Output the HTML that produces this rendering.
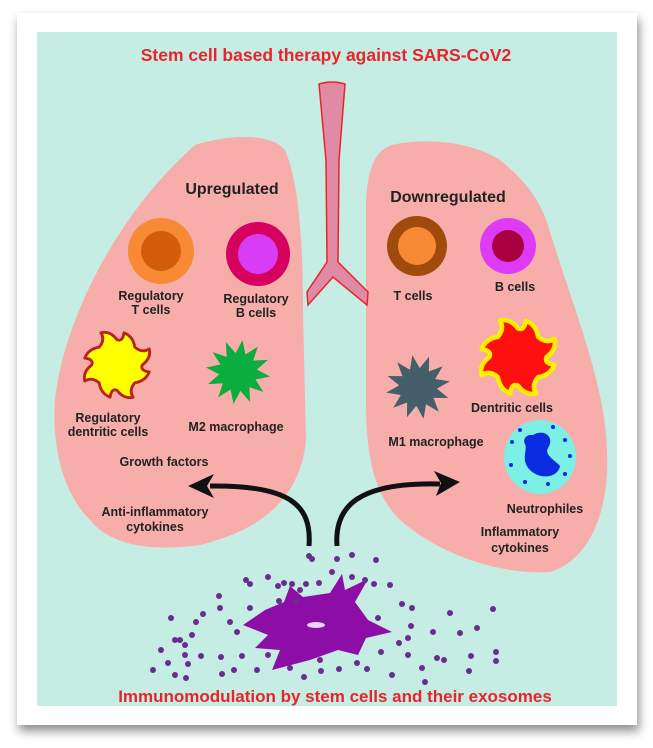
<!DOCTYPE html>
<html><head><meta charset="utf-8"><style>
html,body{margin:0;padding:0;background:#fff;}
svg{display:block}
text{font-family:"Liberation Sans",Arial,sans-serif;font-weight:bold;}
</style></head><body>
<svg width="653" height="748" viewBox="0 0 653 748" xmlns="http://www.w3.org/2000/svg">
<defs>
<filter id="sh" x="-10%" y="-10%" width="130%" height="130%"><feDropShadow dx="2" dy="6" stdDeviation="5" flood-color="#000" flood-opacity="0.45"/></filter>
<polygon id="spk" points="34,0 19.3,5.2 29.4,17 14.1,14.1 17,29.4 5.2,19.3 0,34 -5.2,19.3 -17,29.4 -14.1,14.1 -29.4,17 -19.3,5.2 -34,0 -19.3,-5.2 -29.4,-17 -14.1,-14.1 -17,-29.4 -5.2,-19.3 0,-34 5.2,-19.3 17,-29.4 14.1,-14.1 29.4,-17 19.3,-5.2"/>
<path id="dend" d="M22,0 Q30,-6 28,-14 Q22,-10 15.5,-15.5 Q14,-25 6,-28 Q5,-20 0,-22 Q-6,-30 -14,-28 Q-10,-22 -15.5,-15.5 Q-25,-14 -28,-6 Q-20,-5 -22,0 Q-30,6 -28,14 Q-22,10 -15.5,15.5 Q-14,25 -6,28 Q-5,20 0,22 Q6,30 14,28 Q10,22 15.5,15.5 Q25,14 28,6 Q20,5 22,0 Z"/>
</defs>
<rect x="17" y="13" width="620" height="712" fill="#fff" filter="url(#sh)"/>
<rect x="37" y="32" width="580" height="674" fill="#c6ede4"/>
<text x="326" y="61" font-size="17.5" fill="#e8242a" text-anchor="middle">Stem cell based therapy against SARS-CoV2</text>
<!-- lungs -->
<path d="M195,145 C225,135 270,132 285,150 C300,185 303,250 303,310 L306,440 C300,500 260,530 200,545 C150,552 110,545 90,520 C60,490 52,440 55,400 C62,330 110,220 195,145 Z" fill="#f7aeab"/>
<path d="M392,145 C420,138 470,140 500,160 C525,180 540,200 548,225 C570,300 605,380 607,450 C610,510 590,560 550,572 C500,575 440,555 400,520 C375,495 366,460 366,400 L366,210 C366,170 375,150 392,145 Z" fill="#f7aeab"/>
<!-- trachea -->
<path d="M319,84 Q332,80 345,84 L339,160 L338,262 L368,292 L367,305 L333,277 L308,305 L307,292 L327,262 L326,160 Z" fill="#e18aa6" stroke="#e8242a" stroke-width="1.5"/>
<text x="232" y="194" font-size="16" fill="#222" text-anchor="middle">Upregulated</text>
<text x="448" y="202" font-size="16" fill="#222" text-anchor="middle">Downregulated</text>
<!-- cells -->
<circle cx="161" cy="251" r="33" fill="#f98a35"/><circle cx="161" cy="251" r="20" fill="#d35d0b"/>
<circle cx="258" cy="254" r="32" fill="#d6005e"/><circle cx="258" cy="254" r="20" fill="#d93cf5"/>
<circle cx="417" cy="246" r="30" fill="#a04a0c"/><circle cx="417" cy="246" r="19" fill="#f98a35"/>
<circle cx="508" cy="246" r="28" fill="#dd3bf5"/><circle cx="508" cy="246" r="16" fill="#a8003f"/>
<g font-size="12.5" fill="#222" text-anchor="middle">
<text x="151" y="300">Regulatory</text><text x="151" y="314">T cells</text>
<text x="256" y="303">Regulatory</text><text x="256" y="317">B cells</text>
<text x="413" y="300">T cells</text>
<text x="515" y="291">B cells</text>
<text x="108" y="422">Regulatory</text><text x="108" y="436">dentritic cells</text>
<text x="236" y="431">M2 macrophage</text>
<text x="436" y="446">M1 macrophage</text>
<text x="512" y="412">Dentritic cells</text>
<text x="545" y="513">Neutrophiles</text>
<text x="520" y="536">Inflammatory</text><text x="520" y="552">cytokines</text>
<text x="164" y="466">Growth factors</text>
<text x="155" y="516">Anti-inflammatory</text><text x="155" y="531">cytokines</text>
</g>
<use href="#dend" transform="translate(117,365) scale(1.15)" fill="#ffff00" stroke="#b8231e" stroke-width="2.5" stroke-linejoin="round"/>
<use href="#spk" transform="translate(238,372) rotate(8) scale(0.95)" fill="#0aad3e"/>
<use href="#spk" transform="translate(418,387) rotate(-10) scale(0.95)" fill="#455f6a"/>
<use href="#dend" transform="translate(518,357) scale(1.3)" fill="#ff1010" stroke="#ffee00" stroke-width="3.5" stroke-linejoin="round"/>
<ellipse cx="540" cy="457" rx="36" ry="37" fill="#7df0e6"/>
<path d="M533,435 C545,428 555,438 548,448 C544,455 555,460 560,466 C558,478 540,480 530,470 C520,460 528,450 525,444 C522,438 528,434 533,435 Z" fill="#0a2be0"/>
<g fill="#0a2be0"><circle cx="512" cy="442" r="2"/><circle cx="511" cy="465" r="2"/><circle cx="553" cy="427" r="2"/><circle cx="565" cy="440" r="2"/><circle cx="570" cy="456" r="2"/><circle cx="548" cy="484" r="2"/><circle cx="525" cy="482" r="2"/><circle cx="565" cy="474" r="2"/><circle cx="520" cy="430" r="2"/></g>
<!-- arrows -->
<path d="M309,546 C312,505 290,485 210,486" fill="none" stroke="#111" stroke-width="5"/>
<polygon points="188,486 214,474 207,486 214,498" fill="#111"/>
<path d="M337,546 C334,505 360,482 440,484" fill="none" stroke="#111" stroke-width="5"/>
<polygon points="460,482 434,471 441,483 436,496" fill="#111"/>
<!-- stem cell -->
<path d="M265,610 L284,602 L290,586 L303,597 L330,593 L342,574 L345,590 L368,579 L355,602 L368,620 L392,632 L366,638 L358,655 L338,650 L310,660 L272,670 L280,650 L255,648 L268,635 L243,625 Z" fill="#8d0ea6"/>
<ellipse cx="316" cy="625" rx="9" ry="3" fill="#e6d8f0"/>
<g fill="#6a2d8f">
<circle cx="309" cy="556" r="3"/><circle cx="312" cy="559" r="3"/><circle cx="337" cy="559" r="3"/><circle cx="352" cy="555" r="3"/><circle cx="376" cy="560" r="3"/><circle cx="332" cy="572" r="3"/>
<circle cx="246" cy="580" r="3"/><circle cx="250" cy="584" r="3"/><circle cx="268" cy="577" r="3"/><circle cx="278" cy="586" r="3"/><circle cx="284" cy="583" r="3"/><circle cx="292" cy="584" r="3"/><circle cx="300" cy="590" r="3"/><circle cx="306" cy="584" r="3"/><circle cx="319" cy="583" r="3"/>
<circle cx="352" cy="577" r="3"/><circle cx="365" cy="580" r="3"/><circle cx="374" cy="584" r="3"/><circle cx="390" cy="585" r="3"/>
<circle cx="219" cy="596" r="3"/><circle cx="220" cy="608" r="3"/><circle cx="250" cy="608" r="3"/><circle cx="279" cy="601" r="3"/><circle cx="296" cy="601" r="3"/>
<circle cx="402" cy="604" r="3"/><circle cx="412" cy="608" r="3"/><circle cx="450" cy="613" r="3"/><circle cx="493" cy="609" r="3"/>
<circle cx="171" cy="618" r="3"/><circle cx="196" cy="622" r="3"/><circle cx="203" cy="614" r="3"/><circle cx="230" cy="622" r="3"/><circle cx="378" cy="618" r="3"/>
<circle cx="192" cy="635" r="3"/><circle cx="237" cy="632" r="3"/><circle cx="411" cy="626" r="3"/><circle cx="433" cy="632" r="3"/><circle cx="460" cy="633" r="3"/><circle cx="477" cy="628" r="3"/>
<circle cx="175" cy="640" r="3"/><circle cx="180" cy="640" r="3"/><circle cx="185" cy="645" r="3"/><circle cx="399" cy="643" r="3"/><circle cx="408" cy="638" r="3"/>
<circle cx="161" cy="650" r="3"/><circle cx="185" cy="655" r="3"/><circle cx="201" cy="656" r="3"/><circle cx="221" cy="657" r="3"/><circle cx="242" cy="656" r="3"/><circle cx="268" cy="655" r="3"/><circle cx="381" cy="652" r="3"/><circle cx="408" cy="655" r="3"/><circle cx="437" cy="658" r="3"/><circle cx="444" cy="660" r="3"/><circle cx="471" cy="656" r="3"/><circle cx="496" cy="652" r="3"/><circle cx="496" cy="661" r="3"/>
<circle cx="168" cy="663" r="3"/><circle cx="188" cy="664" r="3"/><circle cx="320" cy="660" r="3"/><circle cx="357" cy="663" r="3"/>
<circle cx="153" cy="670" r="3"/><circle cx="222" cy="674" r="3"/><circle cx="234" cy="670" r="3"/><circle cx="257" cy="670" r="3"/><circle cx="290" cy="668" r="3"/><circle cx="321" cy="671" r="3"/><circle cx="339" cy="669" r="3"/><circle cx="367" cy="669" r="3"/><circle cx="422" cy="668" r="3"/><circle cx="469" cy="671" r="3"/>
<circle cx="175" cy="675" r="3"/><circle cx="186" cy="678" r="3"/><circle cx="304" cy="677" r="3"/><circle cx="392" cy="675" r="3"/><circle cx="425" cy="682" r="3"/>
</g>
<text x="335" y="702" font-size="17" fill="#e8242a" text-anchor="middle">Immunomodulation by stem cells and their exosomes</text>
</svg>
</body></html>
